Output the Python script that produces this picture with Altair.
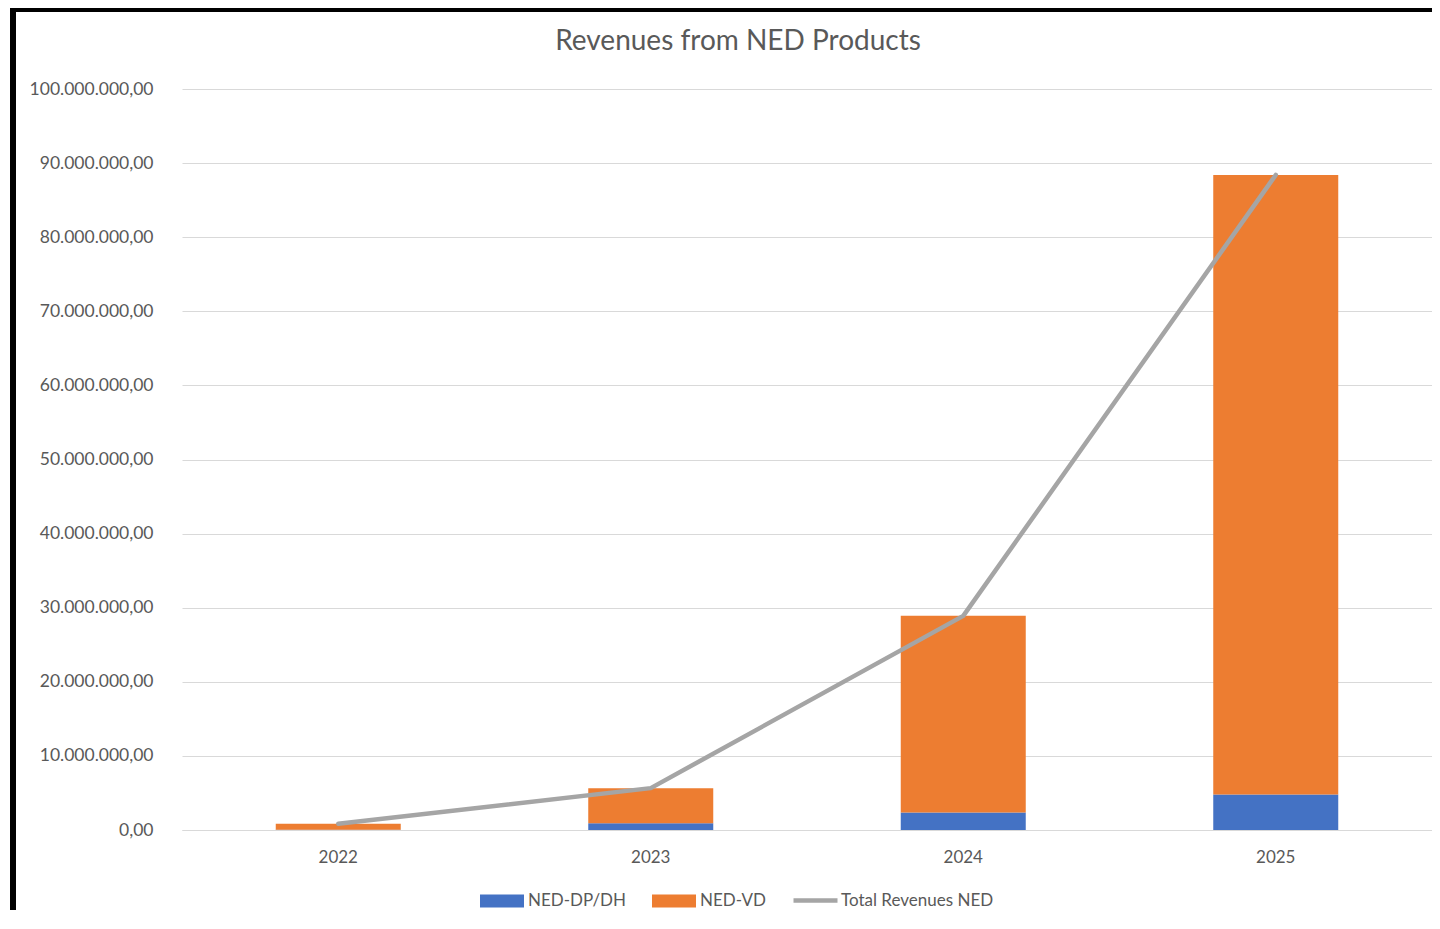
import altair as alt
import pandas as pd

years = ["2022", "2023", "2024", "2025"]
ned_dp_dh = [50000, 900000, 2350000, 4800000]
ned_vd = [780000, 4750000, 26550000, 83600000]
total_rev = [830000, 5650000, 28900000, 88400000]
bar_names = ["NED-DP/DH", "NED-VD"]
bar_colors = ["#4472C4", "#ED7D31"]
line_name = "Total Revenues NED"
line_color = "#A5A5A5"
y_ticks = [0, 10000000, 20000000, 30000000, 40000000, 50000000,
           60000000, 70000000, 80000000, 90000000, 100000000]
title_text = "Revenues from NED Products"

W, H = 1250, 741
FONT = "Lato"
TXT = "#595959"

bars_df = pd.DataFrame({
    "year": years * 2,
    "series": [bar_names[0]] * 4 + [bar_names[1]] * 4,
    "value": ned_dp_dh + ned_vd,
    "ord": [0] * 4 + [1] * 4,
})
line_df = pd.DataFrame({"year": years, "value": total_rev,
                        "series": [line_name] * 4})

x_enc = alt.X("year:N", sort=years, title=None,
              scale=alt.Scale(paddingInner=0.6, paddingOuter=0.3),
              axis=alt.Axis(labelAngle=0, ticks=False, tickSize=0, labelPadding=19,
                            labelFont=FONT, labelFontSize=17, labelColor=TXT,
                            domainColor="#D9D9D9", domainWidth=1, grid=False))
y_scale = alt.Scale(domain=[0, 100000000], nice=False)

rect_path = "M-1,-0.3H1V0.3H-1Z"
line_path = "M-1,0H1"

bar_legend = alt.Legend(
    orient="none", legendX=298, legendY=790, direction="horizontal", title=None,
    symbolSize=1936, symbolType=rect_path, columnPadding=25, labelOffset=4,
    symbolStrokeWidth=0, symbolOpacity=1,
    labelFont=FONT, labelFontSize=17, labelColor=TXT)
line_legend = alt.Legend(
    orient="none", legendX=609, legendY=787, direction="horizontal", title=None,
    symbolSize=1936, symbolType=line_path, labelOffset=1,
    symbolStrokeWidth=4.5, symbolOpacity=1,
    labelFont=FONT, labelFontSize=17, labelColor=TXT)

bars = alt.Chart(bars_df).mark_bar().encode(
    x=x_enc,
    y=alt.Y("value:Q", stack="zero", scale=y_scale, title=None,
            axis=alt.Axis(values=y_ticks, domain=False, ticks=False, tickSize=0,
                          labelPadding=29, labelFont=FONT, labelFontSize=17.5,
                          labelColor=TXT, gridColor="#D9D9D9", gridWidth=1,
                          labelExpr="replace(format(datum.value, ',.0f'), regexp(',', 'g'), '.') + ',00'")),
    color=alt.Color("series:N", scale=alt.Scale(domain=bar_names, range=bar_colors),
                    legend=bar_legend),
    order=alt.Order("ord:Q"),
)

line = alt.Chart(line_df).mark_line(strokeWidth=4.5, strokeCap="round", strokeJoin="round").encode(
    x=alt.X("year:N", sort=years),
    y=alt.Y("value:Q", scale=y_scale),
    color=alt.Color("series:N", scale=alt.Scale(domain=[line_name], range=[line_color]),
                    legend=line_legend),
)

one = pd.DataFrame({"t": [title_text]})
title = alt.Chart(one).mark_text(font=FONT, fontSize=28, color=TXT, align="center",
                                 baseline="middle").encode(
    text="t:N", x=alt.value(556), y=alt.value(-47))

border_left = alt.Chart(one).mark_rule(color="black", strokeWidth=6).encode(
    x=alt.value(-169), y=alt.value(-81), y2=alt.value(H + 80))
border_top = alt.Chart(one).mark_rule(color="black", strokeWidth=4).encode(
    x=alt.value(-172), x2=alt.value(W), y=alt.value(-79))

chart = alt.layer(bars, line, title, border_left, border_top).resolve_scale(
    color="independent"
).properties(
    width=W, height=H,
    autosize=alt.AutoSizeParams(type="none"),
    padding={"left": 174, "top": 81, "right": 0, "bottom": 80},
    background="white",
).configure_view(stroke=None)

chart.save("out.html", embed_options={"renderer": "svg", "actions": False})
